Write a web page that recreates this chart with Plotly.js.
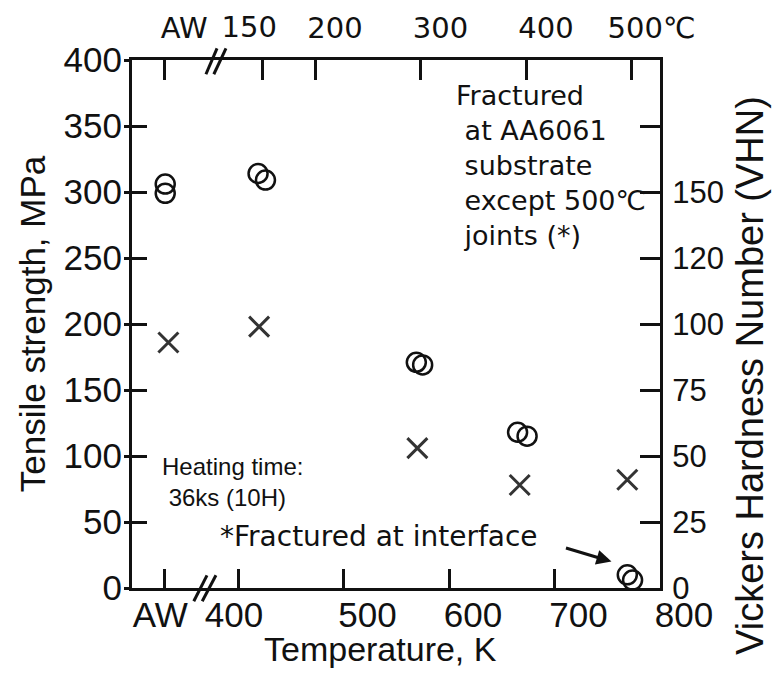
<!DOCTYPE html>
<html>
<head>
<meta charset="utf-8">
<script src="https://cdn.plot.ly/plotly-3.0.1.min.js"></script>
<style>body{margin:0;background:#fff}#chart{width:773px;height:678px}</style>
</head>
<body>
<div id="chart"></div>
<script>
// Temperature (K); AW = as-welded, drawn at its own tick
const bottomTickVals = [330, 400, 500, 600, 700, 800];
const bottomTickText = ['AW', '400', '500', '600', '700', '800'];
// Top scale: heating temperature in degC, placed at the equivalent kelvin
const topTickVals = [330, 423, 473, 573, 673, 773];
const topTickText = ['AW', '150', '200', '300', '400', '500\u2103'];
const leftTickVals = [0, 50, 100, 150, 200, 250, 300, 350, 400];
const rightTickVals = [0, 50, 100, 150, 200, 250, 300, 350];
const rightTickText = ['0', '25', '50', '75', '100', '120', '150', ''];

// Tensile strength (MPa), two specimens per condition
const tensileTemp = [331, 331, 419, 426, 569, 575, 665, 674, 769, 774];
const tensileMPa = [306, 299, 314, 309, 171, 169, 118, 115, 10, 6];

// Vickers hardness, plotted against the right-hand scale
const hardTemp = [334, 420, 570, 667, 769];
const hardVal = [186, 198, 106, 78, 82];

const ink = '#111';
const F = 'Liberation Sans, Arial, Helvetica, sans-serif';
const G = 'DejaVu Sans, Verdana, sans-serif';
const xr = [299.5, 800];
const yr = [0, 400];

// helper traces only switch on the extra overlaid axes (nothing visible)
function ghost(xa, ya) {
  return {x: hardTemp, y: hardVal, type: 'scatter', mode: 'markers', xaxis: xa, yaxis: ya,
    marker: {opacity: 0, size: 1}, hoverinfo: 'skip', showlegend: false};
}

const traces = [
  ghost('x2', 'y'), ghost('x3', 'y'), ghost('x4', 'y'), ghost('x', 'y3'),
  {x: tensileTemp, y: tensileMPa, type: 'scatter', mode: 'markers', xaxis: 'x', yaxis: 'y',
   marker: {symbol: 'circle-open', size: 19, color: ink, line: {width: 2.5, color: ink}},
   hoverinfo: 'skip', showlegend: false},
  {x: hardTemp, y: hardVal, type: 'scatter', mode: 'markers', xaxis: 'x', yaxis: 'y2',
   marker: {symbol: 'x-thin-open', size: 20, color: '#333', line: {width: 3, color: '#333'}},
   hoverinfo: 'skip', showlegend: false}
];

const blankFrom = (arr, keep) => arr.map((t, i) => keep.includes(i) ? t : '');

const baseX = {range: xr, tickmode: 'array', showgrid: false, zeroline: false, fixedrange: true};

const layout = {
  width: 773, height: 678,
  margin: {l: 132, r: 113, t: 60, b: 90, pad: 0},
  paper_bgcolor: '#fff', plot_bgcolor: '#fff',
  font: {family: F, color: ink, size: 30},
  showlegend: false,
  // bottom axis: ticks + first labels
  xaxis: Object.assign({}, baseX, {tickvals: bottomTickVals, ticktext: blankFrom(bottomTickText, [0, 1]),
    ticks: 'inside', ticklen: 19, tickwidth: 3, tickcolor: ink,
    showline: true, linewidth: 3, linecolor: ink,
    tickfont: {size: 35, family: F, color: ink}, ticklabelshift: -4, ticklabelstandoff: -6}),
  // bottom axis: remaining labels, set a little to the right of their ticks
  xaxis3: Object.assign({}, baseX, {overlaying: 'x', side: 'bottom', anchor: 'y',
    tickvals: bottomTickVals.slice(2), ticktext: bottomTickText.slice(2), ticks: '',
    showline: false, tickfont: {size: 35, family: F, color: ink}, ticklabelshift: 24, ticklabelstandoff: 3}),
  // top axis (degC): ticks + the 150 label
  xaxis2: Object.assign({}, baseX, {overlaying: 'x', side: 'top', anchor: 'y',
    tickvals: topTickVals, ticktext: blankFrom(topTickText, [1]),
    ticks: 'inside', ticklen: 20, tickwidth: 3, tickcolor: ink,
    showline: true, linewidth: 3, linecolor: ink,
    tickfont: {size: 29, family: G, color: ink}, ticklabelshift: -13, ticklabelstandoff: 8}),
  xaxis4: Object.assign({}, baseX, {overlaying: 'x', side: 'top', anchor: 'y',
    tickvals: topTickVals.filter((v, i) => i !== 1), ticktext: topTickText.filter((v, i) => i !== 1),
    ticks: '', showline: false,
    tickfont: {size: 29, family: G, color: ink}, ticklabelshift: 20, ticklabelstandoff: 15}),
  yaxis: {range: yr, tickmode: 'array', tickvals: leftTickVals, fixedrange: true,
    ticks: 'outside', ticklen: 5, tickwidth: 3, tickcolor: ink,
    showline: true, linewidth: 3, linecolor: ink, showgrid: false, zeroline: false,
    tickfont: {size: 35, family: F, color: ink}, ticklabelstandoff: -5,
    title: {text: 'Tensile strength, MPa', font: {size: 35, family: F, color: ink}, standoff: 8}},
  yaxis3: {range: yr, overlaying: 'y', side: 'left', anchor: 'x', tickmode: 'array', tickvals: leftTickVals,
    ticks: 'inside', ticklen: 15, tickwidth: 3, tickcolor: ink, showticklabels: false,
    showline: false, showgrid: false, zeroline: false, fixedrange: true},
  yaxis2: {range: yr, overlaying: 'y', side: 'right', anchor: 'x', tickmode: 'array',
    tickvals: rightTickVals, ticktext: rightTickText, fixedrange: true,
    ticks: 'inside', ticklen: 20, tickwidth: 3, tickcolor: ink,
    showline: true, linewidth: 3, linecolor: ink, showgrid: false, zeroline: false,
    tickfont: {size: 31, family: F, color: ink}, ticklabelstandoff: 3},
  shapes: [
    // axis break marks
    {type: 'line', xref: 'paper', yref: 'paper', x0: 0.117, y0: -0.025, x1: 0.142, y1: 0.024, line: {color: ink, width: 3}},
    {type: 'line', xref: 'paper', yref: 'paper', x0: 0.133, y0: -0.025, x1: 0.159, y1: 0.024, line: {color: ink, width: 3}},
    {type: 'line', xref: 'paper', yref: 'paper', x0: 0.140, y0: 0.973, x1: 0.161, y1: 1.022, line: {color: ink, width: 3}},
    {type: 'line', xref: 'paper', yref: 'paper', x0: 0.155, y0: 0.973, x1: 0.178, y1: 1.022, line: {color: ink, width: 3}}
  ],
  annotations: [
    {text: 'Temperature, K', xref: 'paper', yref: 'paper', x: 0.4697, y: -0.116,
     xanchor: 'center', yanchor: 'middle', showarrow: false, font: {size: 34, family: F, color: ink}},
    {text: 'Vickers Hardness Number (VHN)', xref: 'paper', yref: 'paper', x: 1.170, y: 0.403,
     textangle: -90, xanchor: 'center', yanchor: 'middle', showarrow: false,
     font: {size: 38, family: F, color: ink}},
    {text: 'Fractured<br>\u00a0at AA6061<br>\u00a0substrate<br>\u00a0except 500\u2103<br>\u00a0joints (*)',
     xref: 'x', yref: 'y', x: 605, y: 386, xanchor: 'left', yanchor: 'top', align: 'left',
     showarrow: false, font: {size: 27, family: G, color: ink}},
    {text: 'Heating time:<br>\u00a036ks (10H)', xref: 'x', yref: 'y', x: 326, y: 104,
     xanchor: 'left', yanchor: 'top', align: 'left', showarrow: false,
     font: {size: 24, family: F, color: ink}},
    {text: '*Fractured at interface', xref: 'x', yref: 'y', x: 381, y: 39,
     xanchor: 'left', yanchor: 'middle', align: 'left', showarrow: false,
     font: {size: 28, family: G, color: ink}},
    {text: '', xref: 'x', yref: 'y', x: 754, y: 20, ax: -47, ay: -14, axref: 'pixel', ayref: 'pixel',
     showarrow: true, arrowhead: 2, arrowsize: 1, arrowwidth: 3, arrowcolor: ink}
  ]
};

Plotly.newPlot('chart', traces, layout, {staticPlot: true, displayModeBar: false});
</script>
</body>
</html>
